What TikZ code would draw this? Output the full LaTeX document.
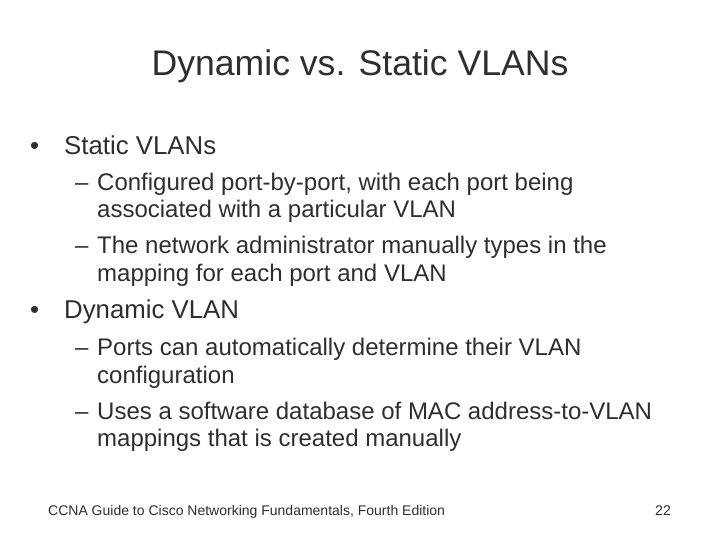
\documentclass[tikz,border=0pt]{standalone}
\usepackage{fontspec}
\setmainfont{Liberation Sans}
\begin{document}
\begin{tikzpicture}[x=1pt,y=-1pt,
  t/.style={anchor=base west,inner sep=0pt,text=black!82},
  lv1/.style={t,font=\fontsize{25.8}{30}\selectfont},
  lv2/.style={t,font=\fontsize{24}{28}\selectfont},
  ft/.style={t,font=\fontsize{14}{16}\selectfont}]
\useasboundingbox (0,0) rectangle (720,540);
\node[anchor=base,inner sep=0pt,text=black!82,font=\fontsize{35.6}{40}\selectfont] (title) at (360,76) {Dynamic vs. Static VLANs};
\node[lv1] (b1) at (30,155) {•};
\node[lv1] (b1t) at (64,155) {Static VLANs};
\node[lv2] (d1) at (75,191) {–};
\node[lv2] (d1t) at (97,191) {Configured port-by-port, with each port being};
\node[lv2] (d1u) at (97,218) {associated with a particular VLAN};
\node[lv2] (d2) at (75,254) {–};
\node[lv2] (d2t) at (97,254) {The network administrator manually types in the};
\node[lv2] (d2u) at (97,281) {mapping for each port and VLAN};
\node[lv1] (b2) at (30,318) {•};
\node[lv1] (b2t) at (64,318) {Dynamic VLAN};
\node[lv2] (d3) at (75,355) {–};
\node[lv2] (d3t) at (97,355) {Ports can automatically determine their VLAN};
\node[lv2] (d3u) at (97,383) {configuration};
\node[lv2] (d4) at (75,419) {–};
\node[lv2] (d4t) at (97,419) {Uses a software database of MAC address-to-VLAN};
\node[lv2] (d4u) at (97,446) {mappings that is created manually};
\node[ft] (foot) at (48,515) {CCNA Guide to Cisco Networking Fundamentals, Fourth Edition};
\node[ft,anchor=base east] (pg) at (671,515) {22};
\end{tikzpicture}
\end{document}
